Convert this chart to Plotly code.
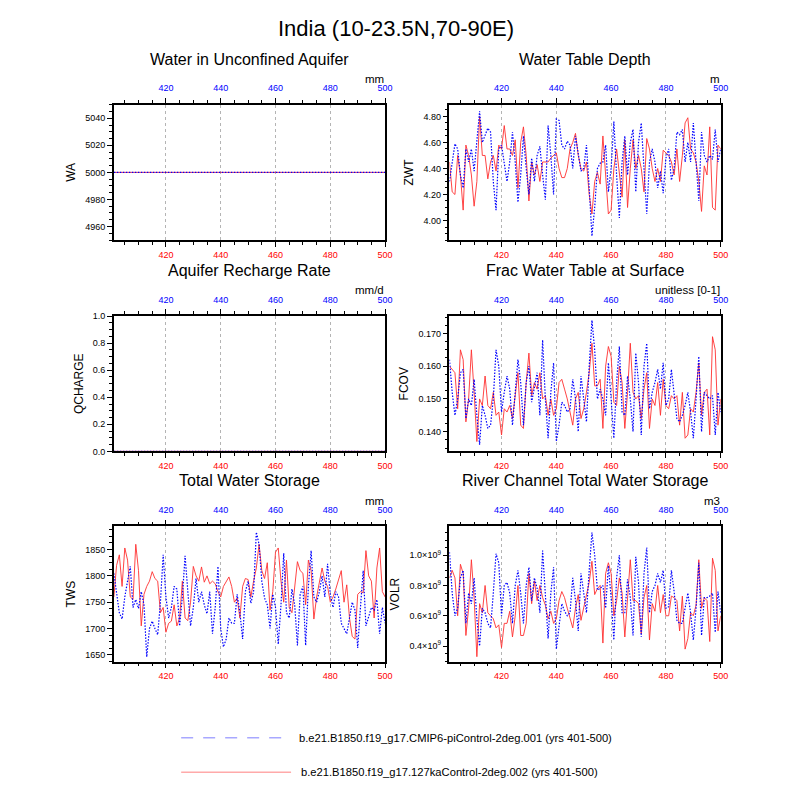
import numpy as np
import plotly.graph_objects as go

years = list(range(401, 501))

# ---- data ----
wa_pi = [5000.0] * 100
wa_127 = [5000.0] * 100
qcharge_pi = [0.0] * 100
qcharge_127 = [0.0] * 100

zwt_pi = [4.30, 4.45, 4.59, 4.55, 4.35, 4.25, 4.55, 4.45, 4.55, 4.38,
          4.60, 4.84, 4.60, 4.65, 4.71, 4.68, 4.30, 4.08, 4.55, 4.58,
          4.45, 4.30, 4.45, 4.68, 4.45, 4.14, 4.35, 4.65, 4.40, 4.20,
          4.48, 4.30, 4.50, 4.57, 4.35, 4.16, 4.73, 4.50, 4.20, 4.78,
          4.77, 4.58, 4.55, 4.61, 4.58, 4.40, 4.65, 4.50, 4.38, 4.40,
          4.58, 4.25, 3.88, 4.10, 4.40, 4.44, 4.45, 4.58, 4.22, 4.40,
          4.76, 4.35, 4.02, 4.45, 4.65, 4.35, 4.60, 4.70, 4.22, 4.60,
          4.75, 4.40, 4.05, 4.45, 4.55, 4.45, 4.25, 4.38, 4.21, 4.48,
          4.55, 4.31, 4.40, 4.68, 4.66, 4.70, 4.45, 4.60, 4.45, 4.75,
          4.45, 4.15, 4.68, 4.50, 4.45, 4.50, 4.47, 4.70, 4.45, 4.55]
zwt_127 = [4.45, 4.22, 4.20, 4.50, 4.35, 4.08, 4.58, 4.50, 4.35, 4.11,
           4.30, 4.80, 4.50, 4.50, 4.32, 4.45, 4.50, 4.38, 4.58, 4.55,
           4.73, 4.55, 4.55, 4.50, 4.62, 4.25, 4.60, 4.72, 4.50, 4.15,
           4.45, 4.35, 4.43, 4.30, 4.45, 4.45, 4.45, 4.48, 4.50, 4.52,
           4.40, 4.33, 4.33, 4.40, 4.55, 4.60, 4.67, 4.50, 4.40, 4.38,
           4.45, 4.20, 4.05, 4.30, 4.37, 4.28, 4.65, 4.35, 4.05, 4.08,
           4.40, 4.55, 4.35, 4.18, 4.62, 4.10, 4.40, 4.62, 4.40, 4.50,
           4.40, 4.22, 4.63, 4.55, 4.40, 4.30, 4.40, 4.30, 4.54, 4.52,
           4.50, 4.45, 4.35, 4.55, 4.30, 4.50, 4.75, 4.79, 4.55, 4.52,
           4.45, 4.30, 4.07, 4.42, 4.35, 4.72, 4.10, 4.08, 4.58, 4.55]

fcov_pi = [0.162, 0.152, 0.145, 0.150, 0.158, 0.159, 0.144, 0.150, 0.148, 0.156,
           0.145, 0.136, 0.148, 0.145, 0.141, 0.142, 0.150, 0.165, 0.160, 0.146,
           0.152, 0.157, 0.153, 0.142, 0.152, 0.162, 0.155, 0.142, 0.155, 0.160,
           0.149, 0.153, 0.158, 0.145, 0.168, 0.150, 0.138, 0.152, 0.161, 0.137,
           0.142, 0.149, 0.148, 0.146, 0.147, 0.156, 0.150, 0.140, 0.157, 0.150,
           0.143, 0.160, 0.174, 0.165, 0.150, 0.153, 0.150, 0.145, 0.161, 0.150,
           0.138, 0.155, 0.166, 0.146, 0.145, 0.157, 0.150, 0.140, 0.164, 0.155,
           0.139, 0.160, 0.167, 0.147, 0.152, 0.155, 0.159, 0.153, 0.161, 0.148,
           0.150, 0.159, 0.152, 0.144, 0.143, 0.145, 0.148, 0.152, 0.146, 0.138,
           0.150, 0.163, 0.140, 0.152, 0.151, 0.150, 0.151, 0.139, 0.152, 0.146]
fcov_127 = [0.160, 0.159, 0.158, 0.147, 0.165, 0.162, 0.143, 0.150, 0.165, 0.152,
            0.137, 0.150, 0.148, 0.157, 0.148, 0.147, 0.152, 0.145, 0.146, 0.139,
            0.147, 0.146, 0.148, 0.144, 0.152, 0.158, 0.142, 0.141, 0.155, 0.164,
            0.151, 0.155, 0.153, 0.158, 0.150, 0.151, 0.145, 0.150, 0.145, 0.147,
            0.155, 0.156, 0.153, 0.150, 0.146, 0.142, 0.150, 0.152, 0.144, 0.147,
            0.152, 0.158, 0.167, 0.154, 0.154, 0.156, 0.141, 0.160, 0.166, 0.163,
            0.149, 0.148, 0.160, 0.155, 0.141, 0.152, 0.167, 0.152, 0.150, 0.151,
            0.144, 0.153, 0.158, 0.141, 0.150, 0.148, 0.155, 0.145, 0.156, 0.148,
            0.147, 0.151, 0.150, 0.151, 0.142, 0.152, 0.138, 0.139, 0.147, 0.146,
            0.152, 0.161, 0.145, 0.152, 0.153, 0.139, 0.169, 0.165, 0.142, 0.150]

tws_pi = [1805, 1770, 1730, 1718, 1760, 1790, 1818, 1740, 1755, 1738,
          1770, 1745, 1646, 1700, 1714, 1700, 1688, 1750, 1840, 1760,
          1720, 1740, 1780, 1775, 1705, 1760, 1838, 1770, 1705, 1740,
          1795, 1750, 1770, 1745, 1728, 1770, 1690, 1740, 1818, 1700,
          1665, 1680, 1720, 1710, 1710, 1765, 1730, 1680, 1770, 1790,
          1748, 1770, 1883, 1860, 1790, 1758, 1745, 1700, 1765, 1740,
          1670, 1745, 1843, 1730, 1720, 1775, 1745, 1668, 1765, 1780,
          1668, 1780, 1848, 1760, 1750, 1770, 1800, 1760, 1823, 1765,
          1740, 1770, 1760, 1710, 1700, 1690, 1720, 1750, 1735, 1663,
          1740, 1810, 1705, 1725, 1740, 1735, 1755, 1690, 1740, 1710]
tws_127 = [1760, 1820, 1840, 1780, 1853, 1830, 1760, 1755, 1860, 1810,
           1705, 1765, 1780, 1790, 1808, 1795, 1790, 1730, 1740, 1693,
           1710, 1714, 1745, 1705, 1720, 1790, 1720, 1715, 1750, 1818,
           1800, 1790, 1817, 1788, 1800, 1785, 1790, 1785, 1770, 1760,
           1780, 1790, 1798, 1780, 1750, 1758, 1720, 1780, 1795, 1793,
           1760, 1790, 1815, 1860, 1810, 1795, 1825, 1735, 1770, 1845,
           1853, 1790, 1750, 1830, 1740, 1730, 1780, 1827, 1810, 1805,
           1745, 1830, 1810, 1718, 1760, 1785, 1815, 1790, 1780, 1750,
           1760, 1775, 1795, 1810, 1750, 1783, 1720, 1685, 1680, 1765,
           1770, 1768, 1848, 1800, 1790, 1720, 1815, 1853, 1770, 1760]

# VOLR in units of 1e9 m3
volr_pi = [1.02, 0.75, 0.60, 0.65, 0.85, 0.90, 0.55, 0.75, 0.68, 0.85,
           0.58, 0.40, 0.65, 0.62, 0.55, 0.52, 0.75, 1.01, 0.95, 0.60,
           0.80, 0.82, 0.75, 0.55, 0.80, 0.90, 0.75, 0.55, 0.80, 0.92,
           0.70, 0.85, 0.78, 0.62, 1.03, 0.70, 0.45, 0.75, 0.92, 0.38,
           0.55, 0.68, 0.63, 0.60, 0.62, 0.85, 0.70, 0.50, 0.88, 0.75,
           0.62, 0.90, 1.15, 1.00, 0.77, 0.78, 0.80, 0.65, 0.93, 0.72,
           0.44, 0.85, 1.00, 0.62, 0.62, 0.84, 0.72, 0.47, 0.99, 0.82,
           0.46, 0.88, 1.05, 0.62, 0.76, 0.80, 0.88, 0.82, 0.90, 0.65,
           0.66, 0.90, 0.76, 0.57, 0.55, 0.55, 0.65, 0.75, 0.62, 0.44,
           0.65, 0.95, 0.47, 0.72, 0.72, 0.73, 0.75, 0.49, 0.76, 0.62]
volr_127 = [0.85, 0.90, 0.85, 0.60, 0.94, 0.88, 0.47, 0.65, 0.97, 0.72,
            0.33, 0.68, 0.62, 0.80, 0.62, 0.60, 0.58, 0.52, 0.54, 0.39,
            0.55, 0.55, 0.63, 0.46, 0.60, 0.80, 0.47, 0.47, 0.55, 0.88,
            0.68, 0.83, 0.70, 0.80, 0.72, 0.67, 0.58, 0.63, 0.55, 0.58,
            0.70, 0.76, 0.72, 0.65, 0.58, 0.52, 0.65, 0.74, 0.57, 0.65,
            0.73, 0.82, 0.96, 0.74, 0.78, 0.80, 0.42, 0.88, 0.95, 0.88,
            0.60, 0.70, 0.85, 0.75, 0.46, 0.70, 0.97, 0.70, 0.70, 0.68,
            0.48, 0.72, 0.80, 0.44, 0.68, 0.63, 0.80, 0.62, 0.74, 0.60,
            0.60, 0.73, 0.72, 0.70, 0.50, 0.73, 0.38, 0.45, 0.62, 0.60,
            0.67, 0.97, 0.65, 0.72, 0.70, 0.43, 0.98, 0.90, 0.50, 0.60]

x_ticks = [420, 440, 460, 480, 500]
volr_tickvals = [0.4e9, 0.6e9, 0.8e9, 1.0e9]
volr_ticktext = ["0.4×10<sup>9</sup>", "0.6×10<sup>9</sup>", "0.8×10<sup>9</sup>", "1.0×10<sup>9</sup>"]

legend_pi = "b.e21.B1850.f19_g17.CMIP6-piControl-2deg.001 (yrs 401-500)"
legend_127 = "b.e21.B1850.f19_g17.127kaControl-2deg.002 (yrs 401-500)"

FONT = "Liberation Sans, Arial, Helvetica, sans-serif"
W = H = 800

# panel geometry in pixels
cols_px = [(115, 389), (454, 728)]
rows_px = [(101, 238), (315, 452), (528, 665)]

panels = [
    dict(title="Water in Unconfined Aquifer", ytitle="WA", units="mm",
         red=wa_127, blue=wa_pi, yr=[4950, 5050], dtick=20, minor=5, fmt="d"),
    dict(title="Water Table Depth", ytitle="ZWT", units="m",
         red=zwt_127, blue=zwt_pi, yr=[3.85, 4.89], dtick=0.2, minor=0.05, fmt=".2f"),
    dict(title="Aquifer Recharge Rate", ytitle="QCHARGE", units="mm/d",
         red=qcharge_127, blue=qcharge_pi, yr=[0, 1], dtick=0.2, minor=0.05, fmt=".1f"),
    dict(title="Frac Water Table at Surface", ytitle="FCOV", units="unitless [0-1]",
         red=fcov_127, blue=fcov_pi, yr=[0.134, 0.1753], dtick=0.01, minor=0.0025, fmt=".3f"),
    dict(title="Total Water Storage", ytitle="TWS", units="mm",
         red=tws_127, blue=tws_pi, yr=[1637, 1894], dtick=50, minor=12.5, fmt="d"),
    dict(title="River Channel Total Water Storage", ytitle="VOLR", units="m3",
         red=list(np.array(volr_127) * 1e9), blue=list(np.array(volr_pi) * 1e9),
         yr=[0.297e9, 1.19e9], dtick=None, minor=0.05e9, fmt=None),
]

fig = go.Figure()
layout = {}
annotations = []

for i, p in enumerate(panels):
    r, c = divmod(i, 2)
    x0, x1 = cols_px[c]
    y0, y1 = rows_px[r]
    xd = [x0 / W, x1 / W]
    yd = [1 - y1 / H, 1 - y0 / H]
    nb = 2 * i + 1
    nt = 2 * i + 2
    ny = i + 1
    xb = f"x{nb}" if nb > 1 else "x"
    xt = f"x{nt}"
    yy = f"y{ny}" if ny > 1 else "y"
    xb_key = f"xaxis{nb}" if nb > 1 else "xaxis"
    xt_key = f"xaxis{nt}"
    y_key = f"yaxis{ny}" if ny > 1 else "yaxis"

    fig.add_trace(go.Scatter(x=years, y=p["red"], xaxis=xb, yaxis=yy, mode="lines",
                             line=dict(color="#ff3030", width=0.9), showlegend=False))
    fig.add_trace(go.Scatter(x=years, y=p["blue"], xaxis=xt, yaxis=yy, mode="lines",
                             line=dict(color="#0000ff", width=1.2, dash="1.5px,1.5px"),
                             showlegend=False))

    common_x = dict(range=[401, 500], domain=xd, tickvals=x_ticks, ticks="outside",
                    ticklen=5, tickwidth=1, tickcolor="black", showline=True,
                    linecolor="black", linewidth=1.5, zeroline=False,
                    minor=dict(dtick=5, tick0=400, ticks="outside", ticklen=3,
                               tickcolor="black", showgrid=False))
    layout[xb_key] = dict(common_x, anchor=yy, side="bottom",
                          tickfont=dict(color="red", size=9, family=FONT),
                          showgrid=True, gridcolor="#b4b4b4", griddash="3px,3px", gridwidth=0.8)
    layout[xt_key] = dict(common_x, anchor=yy, side="top", overlaying=xb,
                          ticklabelstandoff=3,
                          tickfont=dict(color="blue", size=9, family=FONT), showgrid=False)
    ya = dict(range=p["yr"], domain=yd, anchor=xb, ticks="outside", ticklen=5,
              tickwidth=1, tickcolor="black", showline=True, mirror=True,
              linecolor="black", linewidth=1.5, showgrid=False, zeroline=False,
              tickfont=dict(size=9, color="black", family=FONT),
              title=dict(text=p["ytitle"], font=dict(size=12, color="black", family=FONT),
                         standoff=7),
              minor=dict(dtick=p["minor"], ticks="outside", ticklen=3, tickcolor="black",
                         showgrid=False))
    if p["dtick"] is not None:
        ya["dtick"] = p["dtick"]
        ya["tickformat"] = p["fmt"]
    else:
        ya["tickvals"] = volr_tickvals
        ya["ticktext"] = volr_ticktext
        ya["minor"]["tick0"] = 0
    layout[y_key] = ya

    annotations.append(dict(text=p["title"], xref="paper", yref="paper",
                            x=(x0 + x1) / 2 / W, y=1 - (y0 - 46) / H,
                            xanchor="center", yanchor="middle", showarrow=False,
                            font=dict(size=16, color="black", family=FONT)))
    annotations.append(dict(text=p["units"], xref="paper", yref="paper",
                            x=(x1 + 1) / W, y=1 - (y0 - 26) / H,
                            xanchor="right", yanchor="middle", showarrow=False,
                            font=dict(size=11.5, color="black", family=FONT)))

annotations.append(dict(text="India (10-23.5N,70-90E)", xref="paper", yref="paper",
                        x=0.5, y=1 - 24 / H, xanchor="center", yanchor="middle",
                        showarrow=False, font=dict(size=22, color="black", family=FONT)))
annotations.append(dict(text=legend_pi, xref="paper", yref="paper", x=300 / W,
                        y=1 - 742 / H, xanchor="left", yanchor="middle", showarrow=False,
                        font=dict(size=11.2, color="black", family=FONT)))
annotations.append(dict(text=legend_127, xref="paper", yref="paper", x=302 / W,
                        y=1 - 777 / H, xanchor="left", yanchor="middle", showarrow=False,
                        font=dict(size=11.2, color="black", family=FONT)))

shapes = [
    dict(type="line", xref="paper", yref="paper", x0=183 / W, x1=290 / W,
         y0=1 - 742 / H, y1=1 - 742 / H, line=dict(color="#a8a8ff", width=1.5, dash="12px,10px")),
    dict(type="line", xref="paper", yref="paper", x0=183 / W, x1=294 / W,
         y0=1 - 777 / H, y1=1 - 777 / H, line=dict(color="#ffaaaa", width=1.5)),
]

fig.update_layout(width=W, height=H, margin=dict(l=0, r=0, t=0, b=0),
                  paper_bgcolor="white", plot_bgcolor="white", showlegend=False,
                  font=dict(family=FONT), annotations=annotations, shapes=shapes, **layout)

fig.write_html("out.html", config={"displayModeBar": False},
               post_script="document.body.style.margin='0px';document.body.style.padding='0px';")
